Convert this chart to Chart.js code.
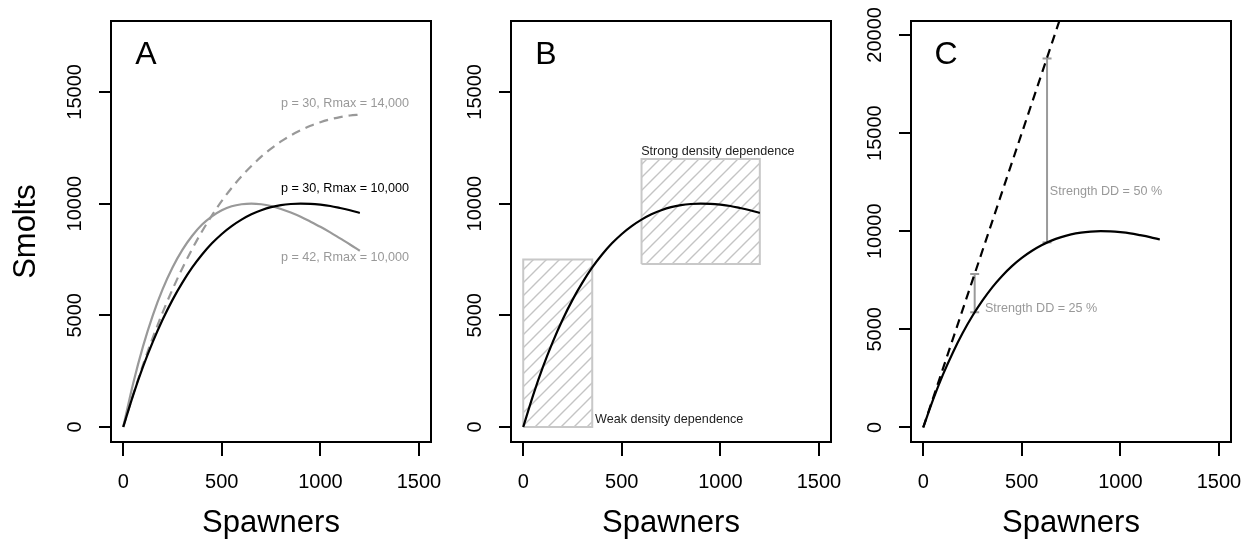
<!DOCTYPE html>
<html>
<head>
<meta charset="utf-8">
<script src="https://cdn.jsdelivr.net/npm/chart.js@4.4.1/dist/chart.umd.min.js"></script>
<style>
html, body { margin: 0; padding: 0; background: #ffffff; }
#wrap { position: relative; width: 1252px; height: 542px; overflow: hidden; background: #ffffff; }
#wrap canvas { position: absolute; left: 0; top: 0; }
</style>
</head>
<body>
<div id="wrap">
  <canvas id="cA" width="1252" height="542"></canvas>
  <canvas id="cB" width="1252" height="542"></canvas>
  <canvas id="cC" width="1252" height="542"></canvas>
</div>
<script>
// ---------- data ----------
const spawners = [0, 50, 100, 150, 200, 250, 300, 350, 400, 450, 500, 550, 600,
                  650, 700, 750, 800, 850, 900, 950, 1000, 1050, 1100, 1150, 1200];
// p = 30, Rmax = 10,000 (black)
const smoltsP30R10 = [0, 1420, 2690, 3810, 4810, 5690, 6460, 7140, 7720, 8220, 8640, 8990, 9280,
                      9520, 9700, 9840, 9930, 9980, 10000, 9990, 9950, 9890, 9800, 9700, 9580];
// p = 42, Rmax = 10,000 (grey)
const smoltsP42R10 = [0, 1940, 3600, 5000, 6170, 7140, 7930, 8560, 9060, 9430, 9700, 9880, 9970,
                      10000, 9970, 9890, 9760, 9600, 9410, 9190, 8960, 8710, 8440, 8170, 7890];
// p = 30, Rmax = 14,000 (grey dashed)
const smoltsP30R14 = [0, 1440, 2770, 4000, 5130, 6160, 7110, 7970, 8760, 9470, 10120, 10700, 11220,
                      11680, 12100, 12460, 12780, 13050, 13280, 13480, 13640, 13770, 13870, 13940, 13980];
const curveLabelsA = ['p = 30, Rmax = 14,000', 'p = 30, Rmax = 10,000', 'p = 42, Rmax = 10,000'];

const xTicks = [0, 500, 1000, 1500];
const yTicksAB = [0, 5000, 10000, 15000];
const yTicksC = [0, 5000, 10000, 15000, 20000];

// panel B hatched boxes
const weakBoxX = [0, 350];
const weakBoxY = [0, 7500];
const strongBoxX = [600, 1200];
const strongBoxY = [7300, 12000];
const boxLabelsB = ['Weak density dependence', 'Strong density dependence'];

// panel C: density-independent line and strength-of-DD bars
const replacementX = [0, 700];
const replacementY = [0, 21000];
const ddX = [261, 628];
const ddLow = [5870, 9430];
const ddHigh = [7820, 18800];
const ddLabels = ['Strength DD = 25 %', 'Strength DD = 50 %'];

// ---------- helpers ----------
const FONT = '"Liberation Sans", Arial, Helvetica, sans-serif';
const pts = (xs, ys) => xs.map((x, i) => ({ x: x, y: ys[i] }));
const boxPts = (bx, by) => [
  { x: bx[0], y: by[0] }, { x: bx[0], y: by[1] }, { x: bx[1], y: by[1] },
  { x: bx[1], y: by[0] }, { x: bx[0], y: by[0] }
];

function hatchPattern() {
  const s = 13;
  const c = document.createElement('canvas');
  c.width = s; c.height = s;
  const g = c.getContext('2d');
  g.strokeStyle = '#c4c4c4';
  g.lineWidth = 1.4;
  g.beginPath();
  g.moveTo(0, s); g.lineTo(s, 0);
  g.moveTo(-s / 2, s / 2); g.lineTo(s / 2, -s / 2);
  g.moveTo(s / 2, s * 1.5); g.lineTo(s * 1.5, s / 2);
  g.stroke();
  return g.createPattern(c, 'repeat');
}

const decor = {
  id: 'decor',
  afterDraw(chart, args, opts) {
    const { ctx, chartArea: a } = chart;
    const x = chart.scales.x, y = chart.scales.y;
    ctx.save();
    ctx.strokeStyle = '#000';
    ctx.lineWidth = 2;
    ctx.strokeRect(a.left, a.top, a.right - a.left, a.bottom - a.top);
    ctx.fillStyle = '#000';
    ctx.font = '32px ' + FONT;
    ctx.textAlign = 'center';
    ctx.textBaseline = 'middle';
    ctx.fillText(opts.letter, a.left + 35, a.top + 34);
    ctx.font = '12.6px ' + FONT;
    for (const t of opts.notes) {
      ctx.fillStyle = t.color;
      ctx.textAlign = t.align;
      ctx.fillText(t.text, x.getPixelForValue(t.x), y.getPixelForValue(t.y));
    }
    ctx.restore();
  }
};

function makeOptions(cfg) {
  return {
    responsive: false,
    animation: false,
    devicePixelRatio: 1,
    events: [],
    layout: { padding: { left: 0, top: 21, right: 1252 - cfg.right, bottom: 0 } },
    plugins: {
      legend: { display: false },
      tooltip: { enabled: false },
      decor: { letter: cfg.letter, notes: cfg.notes }
    },
    elements: { point: { radius: 0 } },
    scales: {
      x: {
        type: 'linear',
        min: -62, max: 1561,
        afterBuildTicks: s => { s.ticks = xTicks.map(v => ({ value: v })); },
        afterFit: s => { s.height = 100; s.paddingLeft = 0; s.paddingRight = 0; },
        grid: { drawOnChartArea: false, drawTicks: true, tickLength: 14, tickWidth: 2,
                tickColor: '#000', color: '#000', lineWidth: 2 },
        border: { display: false },
        ticks: { autoSkip: false, minRotation: 0, maxRotation: 0, padding: 14, color: '#000',
                 font: { family: FONT, size: 20 }, callback: v => String(v) },
        title: { display: true, text: 'Spawners', color: '#000',
                 font: { family: FONT, size: 31 }, padding: { top: 0, bottom: 0 } }
      },
      y: {
        type: 'linear',
        min: cfg.yMin, max: cfg.yMax,
        afterBuildTicks: s => { s.ticks = cfg.yTicks.map(v => ({ value: v })); },
        afterFit: s => { s.width = cfg.left; s.paddingTop = 0; s.paddingBottom = 0; },
        grid: { drawOnChartArea: false, drawTicks: true, tickLength: 12, tickWidth: 2,
                tickColor: '#000', color: '#000', lineWidth: 2 },
        border: { display: false },
        ticks: { autoSkip: false, minRotation: 90, maxRotation: 90, crossAlign: 'center',
                 padding: -3.8, color: '#000', font: { family: FONT, size: 20 },
                 callback: v => String(v) },
        title: { display: cfg.yTitle, text: 'Smolts', color: '#000',
                 font: { family: FONT, size: 31 }, padding: { top: 7.4, bottom: 0 } }
      }
    }
  };
}

const curveBase = { showLine: true, pointRadius: 0, fill: false, cubicInterpolationMode: 'monotone', borderWidth: 2.2 };

// ---------- Panel A ----------
new Chart(document.getElementById('cA'), {
  type: 'line',
  data: {
    datasets: [
      Object.assign({}, curveBase, { data: pts(spawners, smoltsP30R10), borderColor: '#000' }),
      Object.assign({}, curveBase, { data: pts(spawners, smoltsP42R10), borderColor: '#999999' }),
      Object.assign({}, curveBase, { data: pts(spawners, smoltsP30R14), borderColor: '#999999', borderDash: [9, 6] })
    ]
  },
  options: makeOptions({
    letter: 'A', left: 111, right: 431, yMin: -670, yMax: 18170, yTicks: yTicksAB, yTitle: true,
    notes: [
      { text: curveLabelsA[0], x: 1125, y: 14470, color: '#999999', align: 'center' },
      { text: curveLabelsA[1], x: 1125, y: 10670, color: '#000000', align: 'center' },
      { text: curveLabelsA[2], x: 1125, y: 7575, color: '#999999', align: 'center' }
    ]
  }),
  plugins: [decor]
});

// ---------- Panel B ----------
const hatch = hatchPattern();
new Chart(document.getElementById('cB'), {
  type: 'line',
  data: {
    datasets: [
      Object.assign({}, curveBase, { data: pts(spawners, smoltsP30R10), borderColor: '#000' }),
      { data: boxPts(weakBoxX, weakBoxY), showLine: true, pointRadius: 0, tension: 0,
        borderColor: '#c8c8c8', borderWidth: 2, backgroundColor: hatch, fill: 'shape' },
      { data: boxPts(strongBoxX, strongBoxY), showLine: true, pointRadius: 0, tension: 0,
        borderColor: '#c8c8c8', borderWidth: 2, backgroundColor: hatch, fill: 'shape' }
    ]
  },
  options: makeOptions({
    letter: 'B', left: 511, right: 831, yMin: -670, yMax: 18170, yTicks: yTicksAB, yTitle: false,
    notes: [
      { text: boxLabelsB[0], x: 364, y: 340, color: '#222222', align: 'left' },
      { text: boxLabelsB[1], x: 598, y: 12350, color: '#222222', align: 'left' }
    ]
  }),
  plugins: [decor]
});

// ---------- Panel C ----------
const ddSets = ddX.map((x, i) => ({
  data: [{ x: x, y: ddLow[i] }, { x: x, y: ddHigh[i] }],
  showLine: true, tension: 0, fill: false,
  borderColor: '#9a9a9a', borderWidth: 2,
  pointStyle: 'line', pointRadius: 4.5, pointBorderWidth: 2,
  pointBorderColor: '#9a9a9a', pointBackgroundColor: '#9a9a9a'
}));
new Chart(document.getElementById('cC'), {
  type: 'line',
  data: {
    datasets: [
      Object.assign({}, curveBase, { data: pts(spawners, smoltsP30R10), borderColor: '#000' }),
      { data: pts(replacementX, replacementY), showLine: true, pointRadius: 0, tension: 0, fill: false,
        borderColor: '#000', borderWidth: 2.2, borderDash: [9, 6] }
    ].concat(ddSets)
  },
  options: makeOptions({
    letter: 'C', left: 911, right: 1231, yMin: -740, yMax: 20710, yTicks: yTicksC, yTitle: false,
    notes: [
      { text: ddLabels[0], x: 313, y: 6050, color: '#999999', align: 'left' },
      { text: ddLabels[1], x: 642, y: 12010, color: '#999999', align: 'left' }
    ]
  }),
  plugins: [decor]
});
</script>
</body>
</html>
